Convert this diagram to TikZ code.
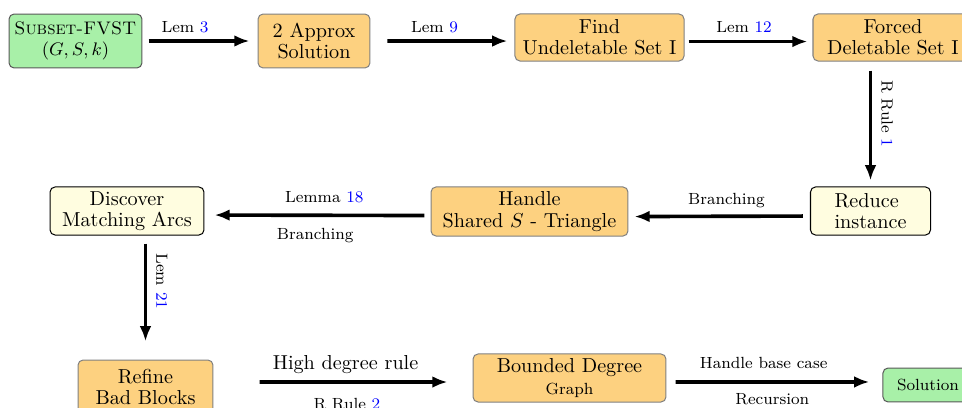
\documentclass[tikz,border=0pt]{standalone}
\usepackage{amsmath}
\usepackage{tikz}
\usetikzlibrary{arrows.meta}
\definecolor{boxorange}{RGB}{253,209,128}
\definecolor{boxgreen}{RGB}{168,240,168}
\definecolor{boxyellow}{RGB}{255,253,224}
\newcommand{\blref}[1]{\textcolor{blue}{#1}}

\begin{document}
\begin{tikzpicture}[x=0.495pt, y=-0.495pt,
        every node/.append style={align=center, font={\linespread{0.88}\selectfont}},
        flow/.style={line width=1.8pt, -{Latex[length=7.5pt,width=5.8pt]}}]
      \tikzstyle{box} = [rectangle, rounded corners=2.5pt, inner sep=1pt, line width=0.5pt]
      \tikzstyle{task} = [box, draw=gray, fill=boxorange]
      \tikzstyle{check} = [box, draw=black, fill=boxyellow]
      \tikzstyle{io} = [box, draw=black!65, fill=boxgreen]
      \tikzstyle{lab} = [font=\footnotesize]
      \clip (0,0) rectangle (962,408);
      \node (SUB) [io, font={\small\linespread{0.95}\selectfont}, minimum width=65.8pt, minimum height=26.7pt] at (75.5,41) {\textsc{Subset-FVST}\\$(G,S,k)$};
      \node (APPROX) [task, minimum width=55.4pt, minimum height=26.7pt] at (314,41) {2 Approx\\Solution};
      \node (FIND) [task, minimum width=83.7pt, minimum height=23.3pt] at (599.5,37.5) {Find\\Undeletable Set I};
      \node (FORCED) [task, minimum width=79.2pt, minimum height=23.3pt] at (893,37.5) {Forced\\Deletable Set I};
      \node (REDUCE) [check, align=left, minimum width=59.4pt, minimum height=23.8pt] at (870.5,211) {Reduce\\instance};
      \node (HANDLE) [task, minimum width=97.5pt, minimum height=24.3pt] at (529.5,211.5) {Handle\\Shared $S$ - Triangle};
      \node (DISCOVER) [check, minimum width=76.2pt, minimum height=23.8pt] at (127,211) {Discover\\Matching Arcs};
      \node (REFINE) [task, minimum width=66.8pt, minimum height=26.7pt] at (145.5,387) {Refine\\Bad Blocks};
      \node (BOUNDED) [task, minimum width=95.5pt, minimum height=23.8pt] at (569.5,378) {Bounded Degree\\{\footnotesize Graph}};
      \node (SOLUTION) [io, minimum width=44.6pt, minimum height=16.8pt] at (928,385) {\footnotesize Solution};

      \draw[flow, shorten <=3pt, shorten >=4pt] (SUB) -- node [lab, above, pos=0.37] {Lem \blref{3}} (APPROX);
      \draw[flow, shorten <=8.4pt, shorten >=3.5pt] (APPROX.east) -- node [lab, above, pos=0.445] {Lem \blref{9}} ([yshift=-1.75pt]FIND.west);
      \draw[flow, shorten <=2pt, shorten >=2.5pt] ([yshift=-2pt]FIND.east) -- node [lab, above, pos=0.465] {Lem \blref{12}} ([yshift=-2pt]FORCED.west);
      \draw[flow, shorten <=4.5pt, shorten >=3pt] (FORCED.south -| REDUCE.north) -- node [lab, rotate=-90, anchor=south, outer sep=2pt, pos=0.42] {R Rule \blref{1}} (REDUCE.north);
      \draw[flow, shorten <=3.5pt, shorten >=3pt] ([yshift=-2.5pt]REDUCE.west) -- node [lab, above, pos=0.46] {Branching} ([yshift=-2.5pt]HANDLE.east);
      \draw[flow, shorten <=3pt, shorten >=5pt] ([yshift=-2pt]HANDLE.west) -- node [lab, above=2pt, pos=0.47] {Lemma \blref{18}} node [lab, below=2pt, pos=0.51] {Branching} ([yshift=-2pt]DISCOVER.east);
      \draw[flow, shorten <=4pt, shorten >=9pt] (DISCOVER.south -| REFINE.north) -- node [lab, rotate=-90, anchor=south, outer sep=2pt, pos=0.37] {Lem \blref{21}} (REFINE.north);
      \draw[flow, shorten <=22.8pt, shorten >=12.4pt] ([yshift=2.5pt]REFINE.east) -- node [above, pos=0.51] {High degree rule} node [lab, below=4pt, pos=0.515] {R Rule \blref{2}} ([yshift=-2pt]BOUNDED.west);
      \draw[flow, shorten <=4.5pt, shorten >=6.5pt] ([yshift=-2pt]BOUNDED.east) -- node [lab, above=2.5pt, pos=0.45] {Handle base case} node [lab, below=1.5pt, pos=0.49] {Recursion} ([yshift=1.5pt]SOLUTION.west);
    \end{tikzpicture}
\end{document}
